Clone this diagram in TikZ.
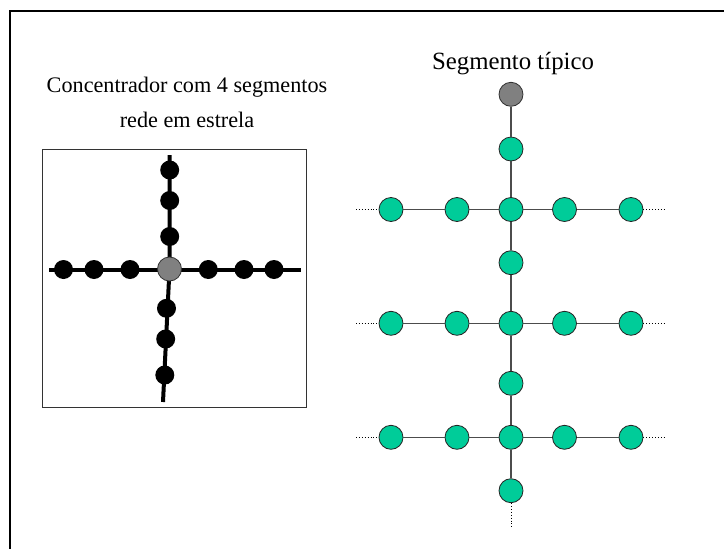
\documentclass[tikz,border=0pt]{standalone}
\usepackage{fontspec}
\setmainfont{Liberation Serif}
\begin{document}
\begin{tikzpicture}[x=1pt,y=-1pt,
  blackdot/.style={circle,fill=black,minimum size=19pt,inner sep=0pt},
  hubgray/.style={circle,fill=hubfill,draw=black!80,line width=0.8pt,minimum size=24pt,inner sep=0pt},
  station/.style={circle,fill=stationfill,draw=black!85,line width=0.8pt,minimum size=24pt,inner sep=0pt},
  trunk/.style={line width=4pt,black},
  link/.style={line width=1.4pt,draw=black!70},
  openend/.style={line width=0.9pt,dotted,black},
  caption/.style={anchor=base,inner sep=0pt,font=\fontsize{22.2}{26}\selectfont},
  title/.style={anchor=base,inner sep=0pt,font=\fontsize{24.8}{29}\selectfont}]
\definecolor{stationfill}{RGB}{0,204,153}
\definecolor{hubfill}{RGB}{128,128,128}
\useasboundingbox (0,0) rectangle (724,549);
\fill[white] (0,0) rectangle (724,549);
% outer frame (top and left edges)
\draw[line width=2pt,line cap=rect] (9.5,549) -- (9.5,10.5) -- (724,10.5);

% ---------- star network ----------
\node[caption] (cap1) at (187,92) {Concentrador com 4 segmentos};
\node[caption] (cap2) at (187,127) {rede em estrela};
\draw[line width=1pt,black!80] (42.5,149.5) rectangle (306,407) ;
\coordinate (tN) at (169.5,155);
\coordinate (tS) at (163,402);
\coordinate (tW) at (49,269.5);
\coordinate (tE) at (301,269.5);
\coordinate (hc) at (169.5,269);
\draw[trunk] (tN) -- (hc) -- (tS);
\draw[trunk] (tW) -- (tE);
\node[hubgray,minimum size=24pt] (hub) at (hc) {};
\node[blackdot] (n1) at (169.7,170) {};
\node[blackdot] (n2) at (169.7,200.5) {};
\node[blackdot] (n3) at (169.7,236.5) {};
\node[blackdot] (w1) at (63.5,269.5) {};
\node[blackdot] (w2) at (94,269.5) {};
\node[blackdot] (w3) at (130,269.5) {};
\node[blackdot] (e1) at (208.3,269.5) {};
\node[blackdot] (e2) at (244,269.5) {};
\node[blackdot] (e3) at (274,269.5) {};
\node[blackdot] (s1) at (166.5,308.3) {};
\node[blackdot] (s2) at (165.7,339) {};
\node[blackdot] (s3) at (164.8,375) {};

% ---------- typical segment ----------
\node[title] (ttl) at (513,69) {Segmento típico};
\node[hubgray] (top) at (511,94.3) {};
\node[station] (v0) at (511,149) {};
\node[station] (c1) at (511,209.5) {};
\node[station] (v1) at (511,262.7) {};
\node[station] (c2) at (511,323.3) {};
\node[station] (v2) at (511,383.3) {};
\node[station] (c3) at (511,437.3) {};
\node[station] (v3) at (511,490.7) {};
\coordinate (bot) at (511,527);
\foreach \r/\y in {1/209.5,2/323.3,3/437.3}{
  \node[station] (a\r) at (391,\y) {};
  \node[station] (b\r) at (457,\y) {};
  \node[station] (d\r) at (564.5,\y) {};
  \node[station] (f\r) at (631,\y) {};
  \coordinate (la\r) at (356,\y);
  \coordinate (rf\r) at (666,\y);
}
\draw[link] (top) -- (v0) -- (c1) -- (v1) -- (c2) -- (v2) -- (c3) -- (v3);
\foreach \r in {1,2,3}{
  \draw[link] (a\r) -- (b\r) -- (c\r) -- (d\r) -- (f\r);
  \draw[openend] (la\r) -- (a\r);
  \draw[openend] (f\r) -- (rf\r);
}
\draw[openend] (v3) -- (bot);
\end{tikzpicture}
\end{document}
